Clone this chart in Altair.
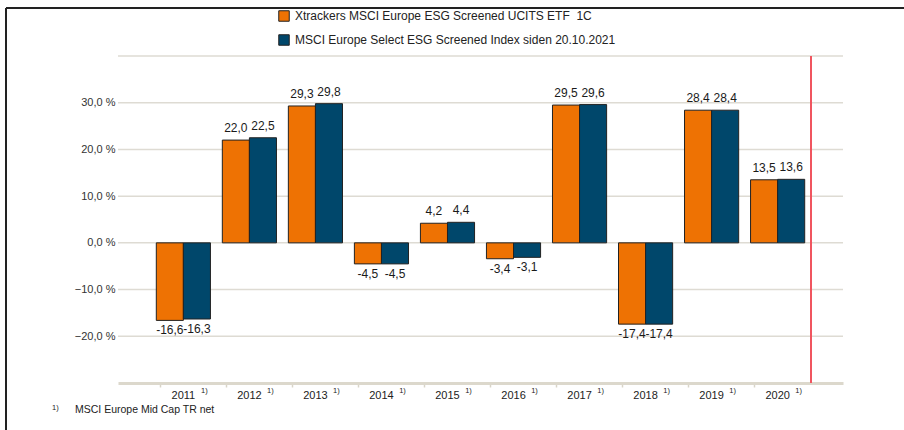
import altair as alt
import pandas as pd

years = ["2011", "2012", "2013", "2014", "2015", "2016", "2017", "2018", "2019", "2020"]
etf = [-16.6, 22.0, 29.3, -4.5, 4.2, -3.4, 29.5, -17.4, 28.4, 13.5]
index = [-16.3, 22.5, 29.8, -4.5, 4.4, -3.1, 29.6, -17.4, 28.4, 13.6]
series_names = [
    "Xtrackers MSCI Europe ESG Screened UCITS ETF\u00a0 1C",
    "MSCI Europe Select ESG Screened Index siden 20.10.2021",
]
colors = ["#EE7203", "#00476B"]
y_labels = [-20, -10, 0, 10, 20, 30]
grid_values = [-20, -10, 0, 10, 20, 30, 40]
footnote_mark = "1)"
footnote_text = "MSCI Europe Mid Cap TR net"

rows = []
for i, y in enumerate(years):
    rows.append({"year": y, "series": series_names[0], "value": etf[i]})
    rows.append({"year": y, "series": series_names[1], "value": index[i]})
df = pd.DataFrame(rows)
df["label"] = df["value"].map(lambda v: f"{v:.1f}".replace(".", ","))
df_years = pd.DataFrame({"year": years, "sup": [footnote_mark] * len(years)})
df_grid = pd.DataFrame({"g": grid_values})

W, H = 725, 327
L, T = 118, 56

xscale = alt.Scale(domain=years, paddingInner=0.18, paddingOuter=0.58)
yscale = alt.Scale(domain=[-30, 40], nice=False, zero=False)

y_axis = alt.Axis(
    title=None,
    values=y_labels,
    labelExpr="replace(format(datum.value, '.1f'), '.', ',') + ' %'",
    labelFont="Liberation Sans",
    labelFontSize=11,
    labelColor="#333333",
    ticks=False,
    domain=False,
    grid=False,
    labelPadding=3,
)

x_enc = alt.X(
    "year:N",
    scale=xscale,
    sort=years,
    axis=alt.Axis(
        title=None,
        labelAngle=0,
        labelFont="Liberation Sans",
        labelFontSize=11,
        labelColor="#222222",
        labelPadding=2,
        tickSize=4,
        tickColor="#d8d4c8",
        tickWidth=1.5,
        bandPosition=0.08,
        domainColor="#dcd8cc",
        domainWidth=3,
        grid=False,
    ),
)

grid = alt.Chart(df_grid).mark_rule(color="#dedbd3", strokeWidth=1.5).encode(
    y=alt.Y("g:Q", scale=yscale, axis=y_axis)
)

bars = alt.Chart(df).mark_bar(stroke="#222222", strokeWidth=1).encode(
    x=x_enc,
    xOffset=alt.XOffset("series:N", sort=series_names),
    y=alt.Y("value:Q", scale=yscale, axis=y_axis),
    y2=alt.datum(0),
    color=alt.Color(
        "series:N",
        sort=series_names,
        scale=alt.Scale(domain=series_names, range=colors),
        legend=alt.Legend(
            title=None,
            orient="none",
            legendX=160,
            legendY=-46,
            symbolType="square",
            symbolSize=110,
            symbolStrokeColor="#222222",
            symbolStrokeWidth=1,
            symbolOpacity=1,
            labelFont="Liberation Sans",
            labelFontSize=12,
            labelColor="#222222",
            labelOffset=5,
            rowPadding=8,
            labelLimit=500,
        ),
    ),
)

pos_text = alt.Chart(df).transform_filter("datum.value >= 0").mark_text(
    baseline="bottom", dy=-5, font="Liberation Sans", fontSize=12, color="#1a1a1a"
).encode(
    x=alt.X("year:N", scale=xscale, sort=years),
    xOffset=alt.XOffset("series:N", sort=series_names),
    y=alt.Y("value:Q", scale=yscale),
    text="label:N",
)

neg_text = alt.Chart(df).transform_filter("datum.value < 0").mark_text(
    baseline="top", dy=5, font="Liberation Sans", fontSize=12, color="#1a1a1a"
).encode(
    x=alt.X("year:N", scale=xscale, sort=years),
    xOffset=alt.XOffset("series:N", sort=series_names),
    y=alt.Y("value:Q", scale=yscale),
    text="label:N",
)

sup = alt.Chart(df_years).mark_text(
    font="Liberation Sans", fontSize=7.5, color="#222222", dx=21, baseline="middle"
).encode(
    x=alt.X("year:N", scale=xscale, sort=years),
    y=alt.value(H + 8),
    text="sup:N",
)

red_line = alt.Chart(df_years.head(1)).mark_rule(color="#F0555F", strokeWidth=2).encode(
    x=alt.value(811 - L), y=alt.value(0), y2=alt.value(H)
)

foot1 = alt.Chart(pd.DataFrame({"t": [footnote_mark]})).mark_text(
    font="Liberation Sans", fontSize=7.5, color="#222222", align="left", baseline="middle"
).encode(x=alt.value(52 - L), y=alt.value(408 - T), text="t:N")

foot2 = alt.Chart(pd.DataFrame({"t": [footnote_text]})).mark_text(
    font="Liberation Sans", fontSize=10.5, color="#222222", align="left", baseline="middle"
).encode(x=alt.value(75 - L), y=alt.value(410 - T), text="t:N")

border_top = alt.Chart(pd.DataFrame({"t": ["top"]})).mark_rule(color="#222222", strokeWidth=2).encode(
    x=alt.value(6 - L), x2=alt.value(904 - L), y=alt.value(8 - T)
)
border_left = alt.Chart(pd.DataFrame({"t": ["left"]})).mark_rule(color="#222222", strokeWidth=2).encode(
    x=alt.value(6 - L), y=alt.value(8 - T), y2=alt.value(430 - T)
)

chart = alt.layer(
    grid, bars, pos_text, neg_text, sup, red_line, foot1, foot2, border_top, border_left
).properties(
    width=W,
    height=H,
    autosize=alt.AutoSizeParams(type="none"),
    padding={"left": L, "top": T, "right": 904 - L - W, "bottom": 430 - T - H},
    background="white",
).configure_view(stroke=None)

chart.save("out.html", embed_options={"renderer": "svg", "actions": False})
